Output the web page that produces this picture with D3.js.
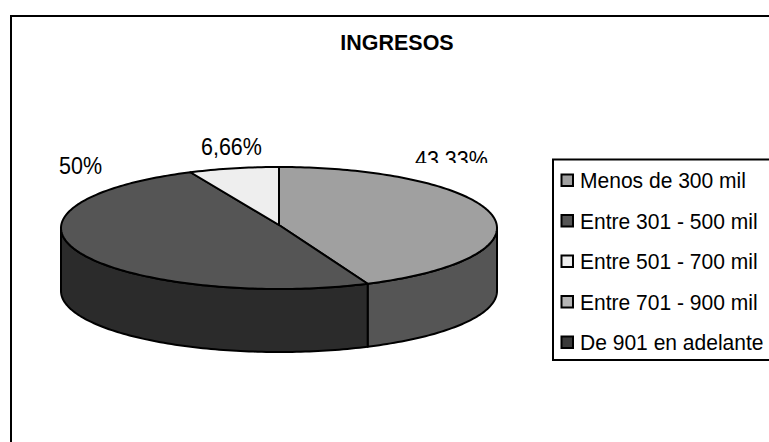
<!DOCTYPE html>
<html><head><meta charset="utf-8">
<script src="https://cdn.jsdelivr.net/npm/d3@7"></script>
<style>html,body{margin:0;padding:0;background:#fff}svg{display:block}text{font-family:"Liberation Sans",Arial,sans-serif;fill:#000}</style>
</head><body><svg id="c" width="769" height="442"></svg>
<script>
const categories = ["Menos de 300 mil","Entre 301 - 500 mil","Entre 501 - 700 mil","Entre 701 - 900 mil","De 901 en adelante"];
const values = [43.33,50,6.66,0,0];
const valueLabels = ["43,33%","50%","6,66%"];
const topColors = ["#a0a0a0","#555555","#eeeeee","#b5b5b5","#3a3a3a"];
const sideColors = ["#555555","#2b2b2b","#999999","#777777","#222222"];
const title = "INGRESOS";

const svg = d3.select("#c");
const W=769,H=442;
const cx=279, cy=228, rx=218, ry=61, depth=63, hubY=225;

// text slightly taller and narrower than the font's natural proportions
const squeezed=(sel,x,y,sx)=>sel.attr("transform",`translate(${x},${y}) scale(${sx},1)`);

// frame
svg.append("path").attr("d",`M11,${H}V16H${W}`).attr("fill","none").attr("stroke","#000").attr("stroke-width",2);
squeezed(svg.append("text").attr("text-anchor","middle").attr("font-size",22.5).attr("font-weight","bold").text(title),397,49.5,0.955);

const pie = d3.pie().sort(null).value(d=>d).startAngle(0).endAngle(2*Math.PI);
const arcs = pie(values);
const X=a=>cx+rx*Math.sin(a), Y=a=>cy-ry*Math.cos(a);
const samples=(a0,a1)=>{const n=Math.max(2,Math.ceil((a1-a0)/0.02));return d3.range(n+1).map(i=>a0+(a1-a0)*i/n);};
const line=d3.line();

// side walls
const g=svg.append("g").attr("stroke","#000").attr("stroke-width",2).attr("stroke-linejoin","round");
arcs.forEach((d,i)=>{
  const a0=Math.max(d.startAngle,Math.PI/2), a1=Math.min(d.endAngle,3*Math.PI/2);
  if(a1<=a0) return;
  const s=samples(a0,a1);
  const pts=s.map(a=>[X(a),Y(a)]).concat(s.slice().reverse().map(a=>[X(a),Y(a)+depth]));
  g.append("path").attr("d",line(pts)+"Z").attr("fill",sideColors[i]);
});
// top slices
arcs.forEach((d,i)=>{
  if(d.endAngle<=d.startAngle) return;
  const pts=[[cx,hubY]].concat(samples(d.startAngle,d.endAngle).map(a=>[X(a),Y(a)]));
  g.append("path").attr("d",line(pts)+"Z").attr("fill",topColors[i]);
});

// value labels
const labelPos=[[415,167.5],[59,173.5],[201,155]];
svg.append("clipPath").attr("id","lc").append("rect").attr("x",400).attr("y",140).attr("width",100).attr("height",23);
const clipG=svg.append("g").attr("clip-path","url(#lc)");
valueLabels.forEach((t,i)=>{
  const el=(i===0?clipG:svg).append("text").attr("font-size",23).text(t);
  squeezed(el,labelPos[i][0],labelPos[i][1],0.935);
});

// legend
svg.append("path").attr("d",`M${W},159.5H553V360H${W}`).attr("fill","#fff").attr("stroke","#000").attr("stroke-width",2);
const ly=d3.scalePoint().domain(categories).range([180,342]);
const lg=svg.selectAll("g.l").data(categories).join("g").attr("class","l").attr("transform",d=>`translate(0,${ly(d)})`);
lg.append("rect").attr("x",561.5).attr("y",-5.5).attr("width",11.5).attr("height",11.5).attr("fill",(d,i)=>topColors[i]).attr("stroke","#000").attr("stroke-width",2);
lg.each(function(d){ squeezed(d3.select(this).append("text").attr("font-size",22.5).text(d),580,8,0.935); });
</script></body></html>
